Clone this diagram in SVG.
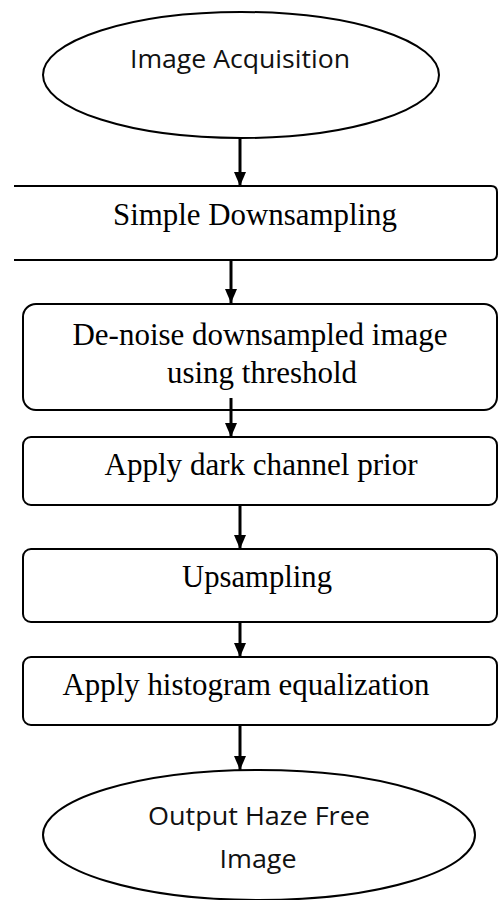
<svg xmlns="http://www.w3.org/2000/svg" width="499" height="900" viewBox="0 0 499 900">
<defs>
<style>
.shape{fill:#fff;stroke:#000;stroke-width:2}
.ser{font-family:"Liberation Serif","Times New Roman",serif;font-size:31px;fill:#000;text-anchor:middle}
.san{font-family:"Open Sans","Liberation Sans",sans-serif;font-size:25px;fill:#111;text-anchor:middle}
.conn{stroke:#000;stroke-width:3;fill:none}
</style>
<marker id="ah" viewBox="0 0 14 12" refX="14" refY="6" markerWidth="14" markerHeight="12" markerUnits="userSpaceOnUse" orient="auto">
<path d="M0,0 L14,6 L0,12 Z" fill="#000"/>
</marker>
</defs>
<rect width="499" height="900" fill="#fff"/>
<g id="n1">
<ellipse class="shape" cx="241" cy="75" rx="198" ry="63"/>
<text class="san" x="240" y="68" textLength="220" lengthAdjust="spacingAndGlyphs">Image Acquisition</text>
</g>
<g id="n2">
<path class="shape" d="M14,186 Q14,186 20,186 L491,186 Q497,186 497,192 L497,254 Q497,260 491,260 L20,260 Q14,260 14,260" />
<text class="ser" x="255" y="225" textLength="284" lengthAdjust="spacingAndGlyphs">Simple Downsampling</text>
</g>
<g id="n3">
<rect class="shape" x="23" y="304" width="474" height="106" rx="13"/>
<text class="ser" x="260" y="345" textLength="375" lengthAdjust="spacingAndGlyphs">De-noise downsampled image</text>
<text class="ser" x="262" y="383" textLength="190" lengthAdjust="spacingAndGlyphs">using threshold</text>
</g>
<g id="n4">
<rect class="shape" x="23" y="437" width="474" height="68" rx="8"/>
<text class="ser" x="261" y="475" textLength="313" lengthAdjust="spacingAndGlyphs">Apply dark channel prior</text>
</g>
<g id="n5">
<rect class="shape" x="23" y="549" width="474" height="73" rx="8"/>
<text class="ser" x="257" y="587" textLength="150" lengthAdjust="spacingAndGlyphs">Upsampling</text>
</g>
<g id="n6">
<rect class="shape" x="23" y="657" width="474" height="68" rx="8"/>
<text class="ser" x="246" y="695" textLength="367" lengthAdjust="spacingAndGlyphs">Apply histogram equalization</text>
</g>
<g id="n7">
<ellipse class="shape" cx="259" cy="835" rx="216" ry="65"/>
<text class="san" x="259" y="825" textLength="222" lengthAdjust="spacingAndGlyphs">Output Haze Free</text>
<text class="san" x="258" y="868" textLength="77" lengthAdjust="spacingAndGlyphs">Image</text>
</g>
<g id="connectors">
<line class="conn" x1="240" y1="138" x2="240" y2="186" marker-end="url(#ah)"/>
<line class="conn" x1="231" y1="261" x2="231" y2="303" marker-end="url(#ah)"/>
<line class="conn" x1="231" y1="398" x2="231" y2="437" marker-end="url(#ah)"/>
<line class="conn" x1="240" y1="505" x2="240" y2="549" marker-end="url(#ah)"/>
<line class="conn" x1="240" y1="622" x2="240" y2="657" marker-end="url(#ah)"/>
<line class="conn" x1="240" y1="725" x2="240" y2="770" marker-end="url(#ah)"/>
</g>
</svg>
